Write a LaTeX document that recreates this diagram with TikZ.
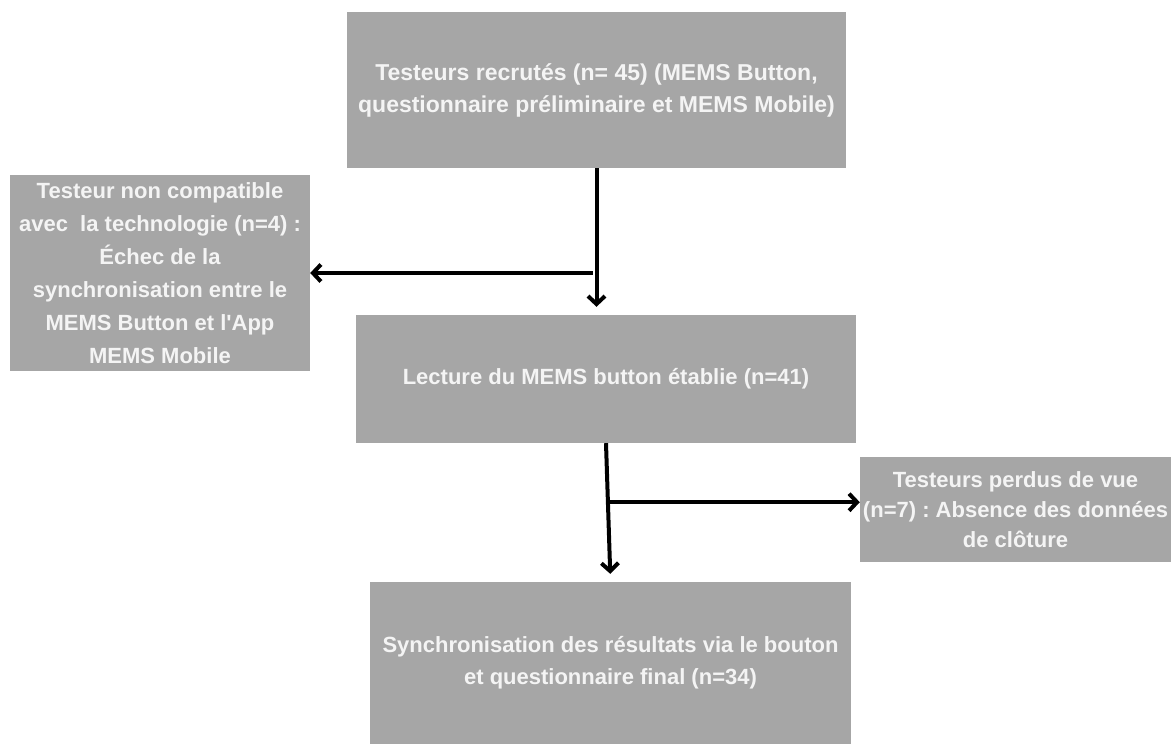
\documentclass[tikz,border=0pt]{standalone}
\usepackage{fontspec}
\setmainfont{Liberation Sans}
\usetikzlibrary{arrows.meta,calc}
\definecolor{boxgray}{HTML}{A6A6A6}
\definecolor{boxtext}{HTML}{F4F4F4}
\frenchspacing

\begin{document}
\begin{tikzpicture}[x=1pt,y=-1pt,
    box/.style={rectangle, fill=boxgray, text=boxtext, align=center, inner sep=0pt,
        font=\bfseries\fontsize{22}{32}\selectfont},
    arr/.style={-{Straight Barb[length=8pt,width=17pt,line width=4pt]}, line width=4pt, black}]
\useasboundingbox (0,0) rectangle (1171,744);

%%%%%%%%%%%%%%%%%%%% Boxes %%%%%%%%%%%%%%%%%%%%%%%%%%
\node[box, font=\bfseries\fontsize{23}{32}\selectfont, minimum width=499, minimum height=156] (recrut) at (596.5,90)
    {Testeurs recrutés (n= 45) (MEMS Button,\\questionnaire préliminaire et MEMS Mobile)};
\node[box, font=\bfseries\fontsize{22}{33}\selectfont, minimum width=300, minimum height=196] (incompat) at (160,273)
    {Testeur non compatible\\avec\ \ la technologie (n=4) :\\Échec de la\\synchronisation entre le\\MEMS Button et l\textquotesingle App\\MEMS Mobile};
\node[box, minimum width=500, minimum height=128] (lecture) at (606,379)
    {Lecture du MEMS button établie (n=41)};
\node[box, font=\bfseries\fontsize{22}{30}\selectfont, minimum width=311, minimum height=105] (perdus) at (1015.5,509.5)
    {Testeurs perdus de vue\\(n=7) : Absence des données\\de clôture};
\node[box, minimum width=481, minimum height=162] (synchro) at (610.5,663)
    {Synchronisation des résultats via le bouton\\et questionnaire final (n=34)};

%%%%%%%%%%%%%%%%%%%% Arrows %%%%%%%%%%%%%%%%%%%%%%%%%%
\coordinate (split1) at (recrut.south |- incompat.east);
\draw[arr, shorten >=8pt] (recrut.south) -- (recrut.south |- lecture.north);
\draw[arr] ([xshift=-4pt]split1) -- (incompat.east);

\path (lecture.south) ++(0,59) coordinate (split2);
\draw[arr, shorten >=8pt] (lecture.south) -- (synchro.north);
\draw[arr] (split2) -- (split2 -| perdus.west);

\end{tikzpicture}
\end{document}
